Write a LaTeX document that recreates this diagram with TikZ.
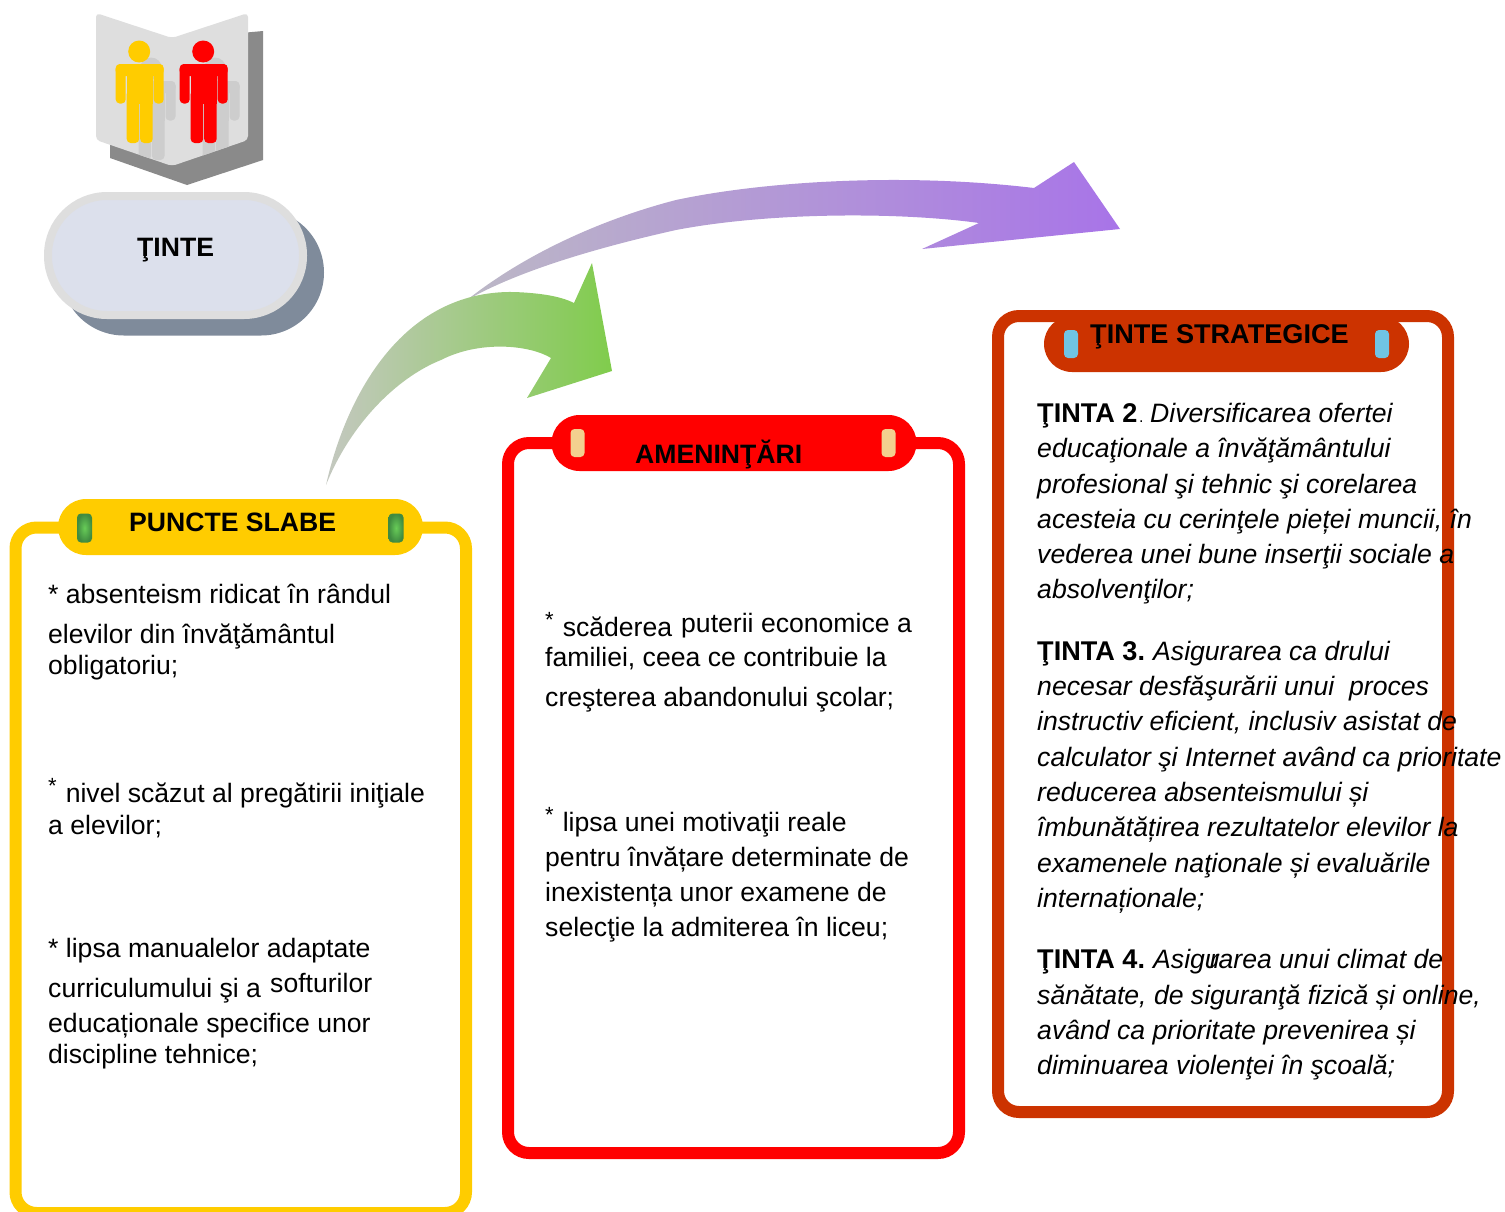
\documentclass[tikz,border=0pt]{standalone}
\usepackage{fontspec}
\setmainfont{Liberation Sans}
\newcommand{\bodysize}{\fontsize{26.6}{32}\selectfont}
\newcommand{\headsize}{\fontsize{26.6}{32}\selectfont\bfseries}
\newcommand{\leadsize}{\fontsize{27.1}{32}\selectfont\bfseries}
\newcommand{\starup}{\raisebox{9pt}{\fontsize{22}{24}\selectfont *}\kern9pt}
\definecolor{amber}{HTML}{FFCC00}
\definecolor{brick}{HTML}{CC3300}
\definecolor{slateshadow}{HTML}{7F8B9B}
\definecolor{pillfill}{HTML}{DCE0EC}
\definecolor{pillrim}{HTML}{DEDEDE}
\definecolor{sand}{HTML}{F3D08F}
\definecolor{sky}{HTML}{70C4E4}
\definecolor{leafcore}{HTML}{68CC58}
\definecolor{leafrim}{HTML}{3F8A40}
\definecolor{ghost}{HTML}{CDCDCD}
\definecolor{purpletail}{HTML}{BCB8C6}
\definecolor{purplemid}{HTML}{9C88BC}
\definecolor{purplehead}{HTML}{A874E8}
\definecolor{greentail}{HTML}{C4C8C0}
\definecolor{greenmid}{HTML}{98B286}
\definecolor{greenhead}{HTML}{80CC4C}
\tikzset{
  card/.style={draw=#1,line width=12pt,rounded corners=21pt,fill=white,inner sep=0pt},
  band/.style={fill=#1,rounded corners=28pt,inner sep=0pt,minimum width=365pt,minimum height=56pt},
  bead/.style={fill=#1,rounded corners=4pt,inner sep=0pt,minimum width=14pt,minimum height=28pt},
  leafbead/.style={inner color=leafcore,outer color=leafrim,rounded corners=4pt,inner sep=0pt,minimum width=15pt,minimum height=29pt},
  line/.style={anchor=base west,inner sep=0pt,font=\bodysize,text=black},
  hline/.style={anchor=base west,inner sep=0pt,font=\headsize,text=black},
  lead/.style={anchor=base west,inner sep=0pt,font=\leadsize,text=black},
}
\newcommand{\person}[3]{% cx, dy, colour
  \begin{scope}[shift={(#1,#2)}]
    \fill[#3] (-0.5,51.5) circle (11);
    \fill[#3,rounded corners=4pt] (-24,64) rectangle (-14,103.5);
    \fill[#3,rounded corners=4pt] (14,64) rectangle (24,103.5);
    \fill[#3,rounded corners=5pt] (-24,64) rectangle (24,76);
    \fill[#3] (-13,70) rectangle (13,104);
    \fill[#3,rounded corners=4pt] (-13,90) rectangle (-0.5,143);
    \fill[#3,rounded corners=4pt] (0.5,90) rectangle (13,143);
  \end{scope}}
\newcommand{\tl}[5][line]{\node[#1] (#2) at (#3,#4) {#5};}
\begin{document}
\begin{tikzpicture}[x=1pt,y=-1pt]
\useasboundingbox (0,0) rectangle (1505,1211);
\clip (0,0) rectangle (1505,1211);
% book icon
\fill[black!46] (110,45) -- (263,31) -- (263,160) -- (187,185) -- (110,158) -- cycle;
\fill[pillrim,rounded corners=4pt] (96,13) -- (172,38) -- (248,13) -- (248,140) -- (172,166) -- (96,140) -- cycle;
\begin{scope}
  \clip (96,13) -- (172,38) -- (248,13) -- (248,140) -- (172,166) -- (96,140) -- cycle;
  \person{151.5}{17}{ghost}
  \person{215.5}{17}{ghost}
\end{scope}
\person{139.7}{0}{amber}
\person{203.7}{0}{red}
% target pill
\node[fill=slateshadow,inner sep=0pt,rounded corners=63pt,minimum width=263pt,minimum height=126pt] (pillshadow) at (192.5,272.5) {};
\node[fill=pillfill,draw=pillrim,line width=8pt,inner sep=0pt,rounded corners=59pt,minimum width=255pt,minimum height=119pt] (pill) at (175.5,255.5) {};
\tl[hline]{pilltext}{137}{256}{ŢINTE}
% arrows
\shade[shading angle=80,left color=purpletail,middle color=purplemid,right color=purplehead]
  (467,300) .. controls (530,250) and (610,217) .. (676,200)
  .. controls (760,182) and (900,172) .. (1034,188)
  -- (1074,162) -- (1120,229) -- (922,249) -- (979,223)
  .. controls (900,212) and (770,212) .. (676,230)
  .. controls (600,247) and (520,270) .. (467,300) -- cycle;
\shade[shading angle=70,left color=greentail,middle color=greenmid,right color=greenhead]
  (326,485) .. controls (345,400) and (400,290) .. (514,292)
  .. controls (540,293) and (560,296) .. (574,303)
  -- (592,263) -- (612,371) -- (527,398) -- (551,358)
  .. controls (530,345) and (480,340) .. (441,360)
  .. controls (396,378) and (350,425) .. (326,485) -- cycle;
% left card
\node[card=amber,minimum width=450.5pt,minimum height=685.5pt] (weakcard) at (240.75,870.25) {};
\node[band=amber] (weakband) at (240.5,527) {};
\node[leafbead] (weakbeadl) at (84.5,528) {};
\node[leafbead] (weakbeadr) at (396,528) {};
\tl[hline]{weakhead}{129}{531}{PUNCTE SLABE}
\tl{wa}{48}{603}{* absenteism ridicat în rândul}
\tl{wb}{48}{643}{elevilor din învăţământul}
\tl{wc}{48}{674}{obligatoriu;}
\tl{wd}{48}{802}{\starup nivel scăzut al pregătirii iniţiale}
\tl{we}{48}{834}{a elevilor;}
\tl{wf}{48}{957}{* lipsa manualelor adaptate}
\tl{wg}{48}{997}{curriculumului şi a}
\tl{wh}{270}{992}{softurilor}
\tl{wi}{48}{1032}{educaționale specifice unor}
\tl{wj}{48}{1063}{discipline tehnice;}
% middle card
\node[card=red,minimum width=451pt,minimum height=710pt] (threatcard) at (733.5,798) {};
\node[band=red] (threatband) at (734,443) {};
\node[bead=sand] (threatbeadl) at (577.5,443) {};
\node[bead=sand] (threatbeadr) at (888.5,443) {};
\tl[hline]{threathead}{635}{463}{AMENINŢĂRI}
\tl{ta}{545}{636}{\starup scăderea}
\tl{tb}{681}{632}{puterii economice a}
\tl{tc}{545}{666}{familiei, ceea ce contribuie la}
\tl{td}{545}{706}{creşterea abandonului şcolar;}
\tl{te}{545}{831}{\starup lipsa unei motivaţii reale}
\tl{tf}{545}{866}{pentru învățare determinate de}
\tl{tg}{545}{901}{inexistența unor examene de}
\tl{th}{545}{936}{selecţie la admiterea în liceu;}
% right card
\node[card=brick,minimum width=450pt,minimum height=796pt] (goalcard) at (1223,714) {};
\node[band=brick] (goalband) at (1226.5,344) {};
\node[bead=sky] (goalbeadl) at (1071,344) {};
\node[bead=sky] (goalbeadr) at (1382,344) {};
\tl[lead]{goalhead}{1090}{343}{ŢINTE STRATEGICE}
\tl[lead]{ga}{1037}{422}{ŢINTA 2}
\tl{gdot}{1139}{422}{\fontsize{16}{18}\selectfont .}
\tl{gb}{1150}{422}{\itshape Diversificarea ofertei}
\tl{gc}{1037}{457}{\itshape educaţionale a învăţământului}
\tl{gd}{1037}{493}{\itshape profesional şi tehnic şi corelarea}
\tl{ge}{1037}{528}{\itshape acesteia cu cerinţele pieței muncii, în}
\tl{gf}{1037}{563}{\itshape vederea unei bune inserţii sociale a}
\tl{gg}{1037}{598}{\itshape absolvenţilor;}
\tl[lead]{gh}{1037}{660}{ŢINTA 3.}
\tl{gi}{1153}{660}{\itshape Asigurarea ca drului}
\tl{gj}{1037}{695}{\itshape necesar desfăşurării unui\ \ proces}
\tl{gk}{1037}{730}{\itshape instructiv eficient, inclusiv asistat de}
\tl{gl}{1037}{766}{\itshape calculator şi Internet având ca prioritate}
\tl{gm}{1037}{801}{\itshape reducerea absenteismului și}
\tl{gn}{1037}{836}{\itshape îmbunătățirea rezultatelor elevilor la}
\tl{go}{1037}{872}{\itshape examenele naţionale și evaluările}
\tl{gp}{1037}{907}{\itshape internaționale;}
\tl[lead]{gq}{1037}{968}{ŢINTA 4.}
\tl{gr}{1153}{968}{\itshape Asigu\kern-10pt rarea unui climat de}
\tl{gs}{1037}{1004}{\itshape sănătate, de siguranţă fizică și online,}
\tl{gt}{1037}{1039}{\itshape având ca prioritate prevenirea și}
\tl{gu}{1037}{1074}{\itshape diminuarea violenţei în şcoală;}
\end{tikzpicture}
\end{document}
